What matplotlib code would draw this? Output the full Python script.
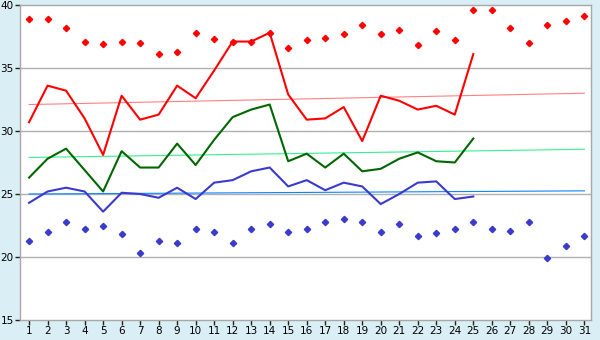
import matplotlib
matplotlib.use("Agg")
import matplotlib.pyplot as plt

days = list(range(1, 32))
line_days = list(range(1, 26))

# daily values (lines: days 1-25)
red_line = [30.7, 33.6, 33.2, 31.0, 28.1, 32.8, 30.9, 31.3, 33.6, 32.6,
            34.8, 37.1, 37.1, 37.8, 32.9, 30.9, 31.0, 31.9, 29.2, 32.8,
            32.4, 31.7, 32.0, 31.3, 36.1]
green_line = [26.3, 27.8, 28.6, 26.9, 25.2, 28.4, 27.1, 27.1, 29.0, 27.3,
              29.3, 31.1, 31.7, 32.1, 27.6, 28.2, 27.1, 28.2, 26.8, 27.0,
              27.8, 28.3, 27.6, 27.5, 29.4]
blue_line = [24.3, 25.2, 25.5, 25.2, 23.6, 25.1, 25.0, 24.7, 25.5, 24.6,
             25.9, 26.1, 26.8, 27.1, 25.6, 26.1, 25.3, 25.9, 25.6, 24.2,
             25.0, 25.9, 26.0, 24.6, 24.8]

# points for every day of the month
red_points = [38.9, 38.9, 38.2, 37.1, 36.9, 37.1, 37.0, 36.1, 36.3, 37.8,
              37.3, 37.1, 37.1, 37.8, 36.6, 37.2, 37.4, 37.7, 38.4, 37.7,
              38.0, 36.8, 37.9, 37.2, 39.6, 39.6, 38.2, 37.0, 38.4, 38.7, 39.1]
blue_points = [21.3, 22.0, 22.8, 22.2, 22.5, 21.8, 20.3, 21.3, 21.1, 22.2,
               22.0, 21.1, 22.2, 22.6, 22.0, 22.2, 22.8, 23.0, 22.8, 22.0,
               22.6, 21.7, 21.9, 22.2, 22.8, 22.2, 22.1, 22.8, 19.9, 20.9, 21.7]

# trend lines (value at day 1 and day 31)
trend_days = [1, 31]
red_trend = [32.1, 33.0]
green_trend = [27.9, 28.55]
blue_trend = [25.0, 25.25]

bg = "#d9eef5"
fig = plt.figure(figsize=(6, 3.4), dpi=100, facecolor=bg)
ax = fig.add_axes([20 / 600, 20 / 340, 571 / 600, 315 / 340])
ax.set_facecolor("white")

for y in [20, 25, 30, 35]:
    ax.axhline(y, color="#b0b0b0", lw=1, zorder=1)

ax.plot(trend_days, red_trend, color="#ff8080", lw=0.8, zorder=2)
ax.plot(trend_days, green_trend, color="#33f090", lw=0.8, zorder=2)
ax.plot(trend_days, blue_trend, color="#0a84ff", lw=0.8, zorder=2)

ax.plot(days, red_points, ls="none", marker="D", ms=3.2, color="#ff0000", zorder=3)
ax.plot(days, blue_points, ls="none", marker="D", ms=3.2, color="#3a3acc", zorder=3)

ax.plot(line_days, red_line, color="#ff0000", lw=1.5, zorder=4)
ax.plot(line_days, green_line, color="#006600", lw=1.5, zorder=4)
ax.plot(line_days, blue_line, color="#3a3acc", lw=1.5, zorder=4)

ax.set_xlim(0.51, 31.36)
ax.set_ylim(15, 40)
ax.set_xticks(days)
ax.set_yticks([15, 20, 25, 30, 35, 40])
ax.tick_params(axis="both", labelsize=7.5, length=3.5, width=1, color="#222222",
               labelcolor="black", pad=1)
for s in ax.spines.values():
    s.set_color("#a8a8a8")
    s.set_linewidth(1)

fig.savefig("out.png", dpi=100, facecolor=bg)
